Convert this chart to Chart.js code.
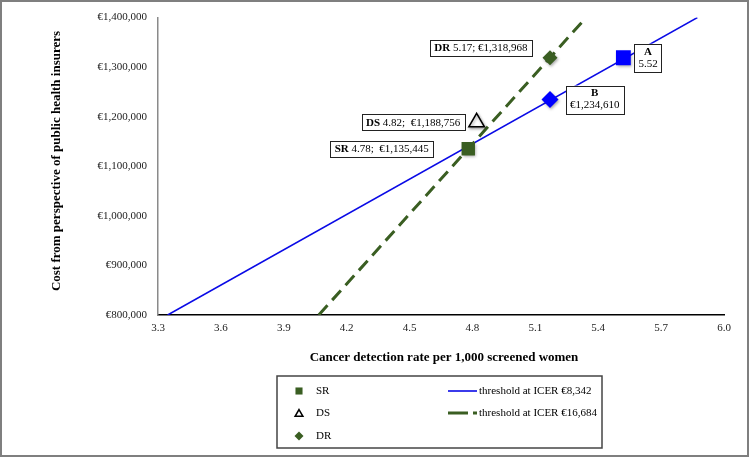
<!DOCTYPE html>
<html>
<head>
<meta charset="utf-8">
<script src="https://cdn.jsdelivr.net/npm/chart.js@4"></script>
<style>
  html, body { margin: 0; padding: 0; background: #fff; }
  #wrap { width: 750px; height: 458px; }
</style>
</head>
<body>
<div id="wrap"><canvas id="chart" width="750" height="458"></canvas></div>
<script>
// strategies (detection rate per 1,000 women; cost)
const strategyNames = ['SR', 'DS', 'DR'];
const strategyRate = [4.78, 4.82, 5.17];
const strategyCost = [1135445, 1188756, 1318968];

// reference points on the lower threshold
const refNames = ['A', 'B'];
const refRate = [5.52, 5.17];
const refCost = [1318968, 1234610];

// threshold lines, drawn between their ends on the axes
const thresholdNames = ['threshold at ICER €8,342', 'threshold at ICER €16,684'];
const lowRate = [3.346, 5.873];
const lowCost = [800000, 1400000];
const highRate = [4.067, 5.342];
const highCost = [800000, 1400000];

// axis ticks
const xTickValues = [3.3, 3.6, 3.9, 4.2, 4.5, 4.8, 5.1, 5.4, 5.7, 6.0];
const yTickValues = [800000, 900000, 1000000, 1100000, 1200000, 1300000, 1400000];

const green = '#3a5e22';
const blue = '#0000ff';
const serif = '"Liberation Serif", "Times New Roman", serif';

function pts(xs, ys) {
    return xs.map((x, i) => ({ x: x, y: ys[i] }));
}

// boxed labels next to the points: [dataset index, point index, bold text, rest, side, dx, dy]
const pointLabels = [
    [0, 0, 'SR', ' 4.78;  €1,135,445', 'left', -35, 0],
    [1, 0, 'DS', ' 4.82;  €1,188,756', 'left', -12, 0],
    [2, 0, 'DR', ' 5.17; €1,318,968', 'left', -18, -10],
    [3, 0, 'A', '5.52', 'right', 11, 0],
    [4, 0, 'B', '€1,234,610', 'right', 16, 0]
];

// soft drop shadow under the markers, like the original
const markerShadow = {
    id: 'markerShadow',
    beforeDatasetDraw(chart, args) {
        if (args.index > 4) return;
        const ctx = chart.ctx;
        ctx.save();
        ctx.shadowColor = 'rgba(0,0,0,0.35)';
        ctx.shadowBlur = 3;
        ctx.shadowOffsetX = 1;
        ctx.shadowOffsetY = 1.5;
    },
    afterDatasetDraw(chart, args) {
        if (args.index > 4) return;
        chart.ctx.restore();
    }
};

const extras = {
    id: 'extras',
    afterDraw(chart) {
        const ctx = chart.ctx;
        const ca = chart.chartArea;
        ctx.save();

        // outer frame
        ctx.strokeStyle = '#7f7f7f';
        ctx.lineWidth = 2;
        ctx.strokeRect(1, 1, 747, 455);

        // axis titles
        ctx.fillStyle = '#000';
        ctx.font = 'bold 13px ' + serif;
        ctx.textAlign = 'center';
        ctx.textBaseline = 'middle';
        ctx.fillText('Cancer detection rate per 1,000 screened women', (ca.left + ca.right) / 2 + 3, 358);
        ctx.save();
        ctx.translate(57, 161);
        ctx.rotate(-Math.PI / 2);
        ctx.fillText('Cost from perspective of public health insurers', 0, 0);
        ctx.restore();

        // point labels
        ctx.font = '11px ' + serif;
        pointLabels.forEach(l => {
            const el = chart.getDatasetMeta(l[0]).data[l[1]];
            const px = el.x, py = el.y;
            ctx.lineWidth = 1;
            ctx.strokeStyle = '#222';
            ctx.fillStyle = '#fff';
            if (l[4] === 'left') {
                ctx.font = 'bold 11px ' + serif;
                const wb = ctx.measureText(l[2]).width;
                ctx.font = '11px ' + serif;
                const wr = ctx.measureText(l[3]).width;
                const w = wb + wr + 9, h = 16;
                const right = px + l[5];
                const top = py + l[6] - h / 2;
                ctx.fillRect(right - w, top, w, h);
                ctx.strokeRect(Math.round(right - w) + 0.5, Math.round(top) + 0.5, Math.round(w), h);
                ctx.fillStyle = '#000';
                ctx.textAlign = 'left';
                ctx.textBaseline = 'middle';
                ctx.font = 'bold 11px ' + serif;
                ctx.fillText(l[2], right - w + 4.5, top + h / 2 + 0.5);
                ctx.font = '11px ' + serif;
                ctx.fillText(l[3], right - w + 4.5 + wb, top + h / 2 + 0.5);
            } else {
                ctx.font = '11px ' + serif;
                const w = ctx.measureText(l[3]).width + 8, h = 28;
                const left = px + l[5];
                const top = py + l[6] - h / 2;
                ctx.fillRect(left, top, w, h);
                ctx.strokeRect(Math.round(left) + 0.5, Math.round(top) + 0.5, Math.round(w), h);
                ctx.fillStyle = '#000';
                ctx.textAlign = 'center';
                ctx.textBaseline = 'middle';
                ctx.font = 'bold 11px ' + serif;
                ctx.fillText(l[2], left + w / 2, top + 8);
                ctx.font = '11px ' + serif;
                ctx.fillText(l[3], left + w / 2, top + 20);
            }
        });

        // legend box
        ctx.lineWidth = 1.5;
        ctx.strokeStyle = '#444';
        ctx.strokeRect(277, 376, 325, 72);
        ctx.font = '11px ' + serif;
        ctx.textAlign = 'left';
        ctx.textBaseline = 'middle';
        const rows = [391, 413, 436];
        const helpers = Chart.helpers;
        [0, 1, 2].forEach(i => {
            const ds = chart.data.datasets[i];
            ctx.fillStyle = ds.backgroundColor;
            ctx.strokeStyle = ds.borderColor;
            helpers.drawPoint(ctx, {
                pointStyle: ds.pointStyle,
                rotation: 0,
                radius: i === 0 ? 5 : 4.5,
                borderWidth: i === 1 ? 1.5 : 0
            }, 299, rows[i] + (i === 1 ? 1 : 0));
            ctx.fillStyle = '#000';
            ctx.fillText(strategyNames[i], 316, rows[i]);
        });
        [5, 6].forEach((d, i) => {
            const ds = chart.data.datasets[d];
            ctx.strokeStyle = ds.borderColor;
            ctx.lineWidth = ds.borderWidth;
            ctx.setLineDash(i === 1 ? [20, 5] : []);
            ctx.beginPath();
            ctx.moveTo(448, rows[i]);
            ctx.lineTo(477, rows[i]);
            ctx.stroke();
            ctx.setLineDash([]);
            ctx.fillStyle = '#000';
            ctx.fillText(thresholdNames[i], 479, rows[i]);
        });
        ctx.restore();
    }
};

new Chart(document.getElementById('chart'), {
    type: 'scatter',
    data: {
        datasets: [
            { label: strategyNames[0], data: pts([strategyRate[0]], [strategyCost[0]]), pointStyle: 'rect', pointRadius: 9.5, backgroundColor: green, borderColor: green, borderWidth: 0, order: 0 },
            { label: strategyNames[1], data: pts([strategyRate[1]], [strategyCost[1]]), pointStyle: 'triangle', pointRadius: 9, backgroundColor: '#fff', borderColor: '#000', borderWidth: 1.5, order: 0 },
            { label: strategyNames[2], data: pts([strategyRate[2]], [strategyCost[2]]), pointStyle: 'rectRot', pointRadius: 7.5, backgroundColor: green, borderColor: green, borderWidth: 0, order: 0 },
            { label: refNames[0], data: pts([refRate[0]], [refCost[0]]), pointStyle: 'rect', pointRadius: 10.5, backgroundColor: blue, borderColor: blue, borderWidth: 0, order: 0 },
            { label: refNames[1], data: pts([refRate[1]], [refCost[1]]), pointStyle: 'rectRot', pointRadius: 8.5, backgroundColor: blue, borderColor: blue, borderWidth: 0, order: 0 },
            { label: thresholdNames[0], data: pts(lowRate, lowCost), showLine: true, pointRadius: 0, borderColor: '#0a0ae6', borderWidth: 1.6, order: 1 },
            { label: thresholdNames[1], data: pts(highRate, highCost), showLine: true, pointRadius: 0, borderColor: green, borderWidth: 3, borderDash: [13, 7], order: 1 }
        ]
    },
    options: {
        responsive: false,
        animation: false,
        layout: { padding: { left: 0, right: 26, top: 15, bottom: 0 } },
        plugins: { legend: { display: false }, tooltip: { enabled: false } },
        scales: {
            x: {
                type: 'linear',
                min: 3.3,
                max: 6.0,
                afterBuildTicks: s => { s.ticks = xTickValues.map(v => ({ value: v })); },
                afterFit: s => { s.height = 143; },
                grid: { display: false, drawTicks: false },
                border: { display: true, color: '#000', width: 1.5 },
                ticks: {
                    padding: 7,
                    color: '#222',
                    font: { family: serif, size: 11 },
                    maxRotation: 0,
                    callback: v => v.toFixed(1)
                }
            },
            y: {
                type: 'linear',
                min: 800000,
                max: 1400000,
                afterBuildTicks: s => { s.ticks = yTickValues.map(v => ({ value: v })); },
                afterFit: s => { s.width = 158; },
                grid: { display: false, drawTicks: false },
                border: { display: true, color: '#8a8a8a', width: 1.5 },
                ticks: {
                    padding: 11,
                    color: '#222',
                    font: { family: serif, size: 11 },
                    callback: v => '€' + v.toLocaleString('en-US')
                }
            }
        }
    },
    plugins: [markerShadow, extras]
});
</script>
</body>
</html>
